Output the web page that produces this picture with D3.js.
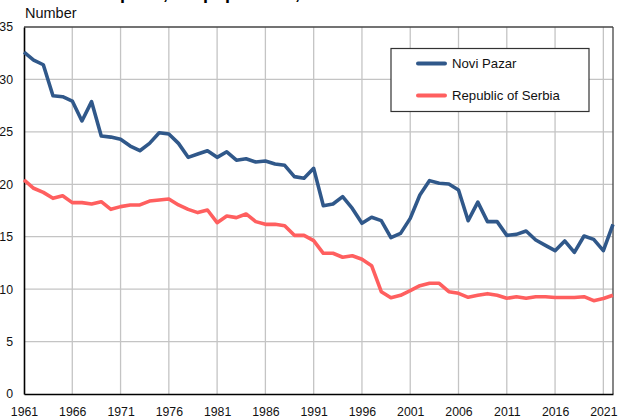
<!DOCTYPE html>
<html>
<head>
<meta charset="utf-8">
<script src="https://cdn.jsdelivr.net/npm/d3@7"></script>
<style>
  html, body { margin: 0; padding: 0; background: #fff; }
  svg { display: block; font-family: "Liberation Sans", Arial, sans-serif; }
</style>
</head>
<body>
<svg id="chart" width="623" height="417"></svg>
<script>
const years = d3.range(1961, 2023);
const noviPazar = [
  32.6, 31.85, 31.4, 28.45, 28.35, 27.94, 26.04, 27.88, 24.6, 24.5,
  24.29, 23.65, 23.2, 23.9, 24.92, 24.8, 23.9, 22.57, 22.89, 23.2,
  22.57, 23.1, 22.3, 22.44, 22.13, 22.22, 21.94, 21.81, 20.73, 20.57,
  21.52, 17.96, 18.12, 18.82, 17.7, 16.28, 16.85, 16.53, 14.91, 15.32,
  16.75, 18.98, 20.35, 20.1, 20.03, 19.46, 16.53, 18.3, 16.44, 16.44,
  15.13, 15.22, 15.54, 14.69, 14.18, 13.67, 14.6, 13.51, 15.07, 14.75,
  13.67, 16.18
];
const serbia = [
  20.41, 19.62, 19.23, 18.66, 18.91, 18.25, 18.25, 18.12, 18.34, 17.61,
  17.87, 18.03, 18.03, 18.4, 18.5, 18.6, 18.03, 17.61, 17.3, 17.55,
  16.34, 16.97, 16.82, 17.17, 16.44, 16.18, 16.18, 16.05, 15.13, 15.13,
  14.62, 13.42, 13.42, 13.04, 13.19, 12.85, 12.24, 9.76, 9.18, 9.41,
  9.85, 10.33, 10.56, 10.56, 9.76, 9.6, 9.22, 9.41, 9.57, 9.41,
  9.13, 9.28, 9.13, 9.28, 9.28, 9.2, 9.2, 9.2, 9.28, 8.9,
  9.1, 9.41
];
const seriesNames = ["Novi Pazar", "Republic of Serbia"];
const seriesColors = ["#30588a", "#ff5f5f"];
const xTickYears = [1961, 1966, 1971, 1976, 1981, 1986, 1991, 1996, 2001, 2006, 2011, 2016, 2021];
const yTicks = [0, 5, 10, 15, 20, 25, 30, 35];
const titleText = "Live births per 1,000 population, Novi Pazar and Serbia";
const yLabel = "Number";

const svg = d3.select("#chart");
const m = { left: 24, top: 27, right: 613, bottom: 394 };

const x = d3.scaleLinear().domain([1961, 2022]).range([m.left, m.right]);
const y = d3.scaleLinear().domain([0, 35]).range([m.bottom, m.top]);

// title (mostly above the visible frame, as in the reference)
svg.append("text").attr("x", 24).attr("y", -1)
  .attr("font-size", 18).attr("font-weight", "bold").attr("fill", "#000")
  .text(titleText);

// grid
const grid = svg.append("g");
grid.selectAll("line.h").data(yTicks.filter(d => d > 0 && d < 35)).join("line")
  .attr("x1", m.left).attr("x2", m.right)
  .attr("y1", d => y(d)).attr("y2", d => y(d))
  .attr("stroke", "#c4c4c4").attr("stroke-width", 1.3);
grid.selectAll("line.v").data(xTickYears.filter(d => d > 1961)).join("line")
  .attr("y1", m.top).attr("y2", m.bottom)
  .attr("x1", d => x(d)).attr("x2", d => x(d))
  .attr("stroke", "#c4c4c4").attr("stroke-width", 1.3);

// frame top/right
svg.append("line").attr("x1", m.left).attr("x2", m.right).attr("y1", m.top).attr("y2", m.top)
  .attr("stroke", "#444").attr("stroke-width", 1.3);
svg.append("line").attr("x1", m.right).attr("x2", m.right).attr("y1", m.top).attr("y2", m.bottom)
  .attr("stroke", "#444").attr("stroke-width", 1.3);

// axes via d3
const xAxis = d3.axisBottom(x).tickValues(xTickYears).tickFormat(d3.format("d")).tickSize(0).tickPadding(12.8);
const yAxis = d3.axisLeft(y).tickValues(yTicks).tickFormat(d3.format("d")).tickSize(0).tickPadding(11);

const gx = svg.append("g").attr("transform", `translate(0,${m.bottom})`).call(xAxis);
gx.select(".domain").attr("stroke", "#000").attr("stroke-width", 1.6);
gx.selectAll("text").attr("font-size", 12.3).attr("fill", "#111")
  .attr("font-family", "Liberation Sans, Arial, sans-serif");

const gy = svg.append("g").attr("transform", `translate(${m.left},0)`).call(yAxis);
gy.select(".domain").attr("stroke", "#000").attr("stroke-width", 1.6);
gy.selectAll("text").attr("font-size", 12.3).attr("fill", "#111")
  .attr("font-family", "Liberation Sans, Arial, sans-serif");

svg.append("text").attr("x", 25).attr("y", 18.3)
  .attr("font-size", 14.5).attr("fill", "#111").text(yLabel);

// lines
const line = d3.line().x((d, i) => x(years[i])).y(d => y(d));
[noviPazar, serbia].forEach((s, i) => {
  svg.append("path").datum(s).attr("d", line)
    .attr("fill", "none").attr("stroke", seriesColors[i])
    .attr("stroke-width", 3.6).attr("stroke-linejoin", "round").attr("stroke-linecap", "butt");
});

// legend
const lg = svg.append("g");
lg.append("rect").attr("x", 391).attr("y", 48.5).attr("width", 198).attr("height", 63)
  .attr("fill", "#fff").attr("stroke", "#333").attr("stroke-width", 1.2);
seriesNames.forEach((n, i) => {
  const cy = 63.5 + i * 32;
  lg.append("line").attr("x1", 418).attr("x2", 445).attr("y1", cy).attr("y2", cy)
    .attr("stroke", seriesColors[i]).attr("stroke-width", 4).attr("stroke-linecap", "round");
  lg.append("text").attr("x", 452).attr("y", cy + 4.7).attr("font-size", 13.2)
    .attr("fill", "#111").text(n);
});
</script>
</body>
</html>
